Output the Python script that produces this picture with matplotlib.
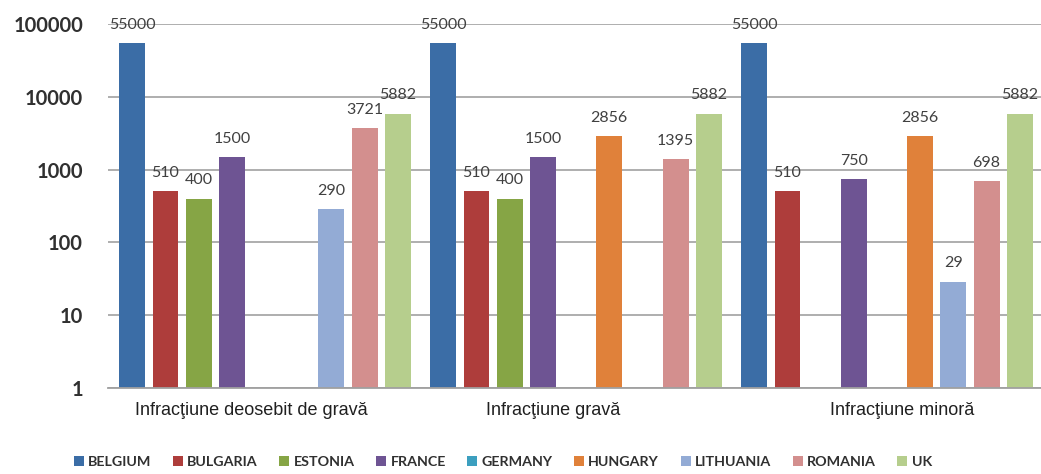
import numpy as np
import matplotlib

matplotlib.use("Agg")
import matplotlib.pyplot as plt

# ---------------------------------------------------------------------------
# Data (nan = no bar)
# ---------------------------------------------------------------------------
categories = ["Infracţiune deosebit de gravă", "Infracţiune gravă", "Infracţiune minoră"]
countries = ["BELGIUM", "BULGARIA", "ESTONIA", "FRANCE", "GERMANY",
             "HUNGARY", "LITHUANIA", "ROMANIA", "UK"]
belgium = [55000, 55000, 55000]
bulgaria = [510, 510, 510]
estonia = [400, 400, np.nan]
france = [1500, 1500, 750]
germany = [np.nan, np.nan, np.nan]
hungary = [np.nan, 2856, 2856]
lithuania = [290, np.nan, 29]
romania = [3721, 1395, 698]
uk = [5882, 5882, 5882]
yticks = [1, 10, 100, 1000, 10000, 100000]

series = [belgium, bulgaria, estonia, france, germany,
          hungary, lithuania, romania, uk]
colors = ["#3B6DA6", "#AE3D3B", "#86A545", "#6E5493", "#3C9FBF",
          "#E0813A", "#93ABD5", "#D38F8E", "#B6CE8D"]
# category labels are not quite centred under their groups in the original
label_shift = [-0.045, -0.075, 0.048]

fig = plt.figure(figsize=(10.41, 4.74), dpi=100)
ax = fig.add_axes([0.1037, 0.1814, 0.8963, 0.768])

slot = 0.1067
width = 0.0833
x = np.arange(len(categories))
for i, (name, vals, col) in enumerate(zip(countries, series, colors)):
    pos = x + (i - 4) * slot
    vals = np.asarray(vals, dtype=float)
    bars = ax.bar(pos, vals, width, color=col, label=name, zorder=2)
    for b, v in zip(bars, vals):
        if np.isnan(v):
            continue
        ax.annotate(f"{int(v)}", (b.get_x() + b.get_width() / 2, v),
                    xytext=(0, 8), textcoords="offset points",
                    ha="center", va="bottom", fontsize=11.5,
                    family=["Lato", "DejaVu Sans"], color="#404040",
                    annotation_clip=False)

ax.set_yscale("log")
ax.set_ylim(1, 100000)
ax.set_xlim(-0.505, 2.495)
ax.set_yticks(yticks)
ax.set_yticklabels([str(t) for t in yticks], fontsize=14.5, fontweight="bold",
                   family=["Lato", "DejaVu Sans"], color="#303030")
ax.minorticks_off()
ax.tick_params(axis="y", length=0, pad=18)
ax.set_xticks(x + np.array(label_shift))
ax.set_xticklabels(categories, fontsize=13, family=["Liberation Sans", "DejaVu Sans"],
                   color="#202020")
ax.tick_params(axis="x", length=0, pad=10)
ax.grid(axis="y", color="#A8A8A8", lw=1.3, zorder=0)
for s in ["top", "right", "left"]:
    ax.spines[s].set_visible(False)
ax.spines["bottom"].set_color("#A0A0A0")
ax.spines["bottom"].set_linewidth(1.3)

leg = fig.legend(loc="center", bbox_to_anchor=(0.483, 0.025), ncol=9, frameon=False,
                 prop={"family": ["Lato", "DejaVu Sans"], "size": 10.3, "weight": "bold"},
                 handlelength=0.7, handleheight=0.7, handletextpad=0.3,
                 columnspacing=1.5, labelcolor="#303030")

fig.savefig("out.png", dpi=100)
